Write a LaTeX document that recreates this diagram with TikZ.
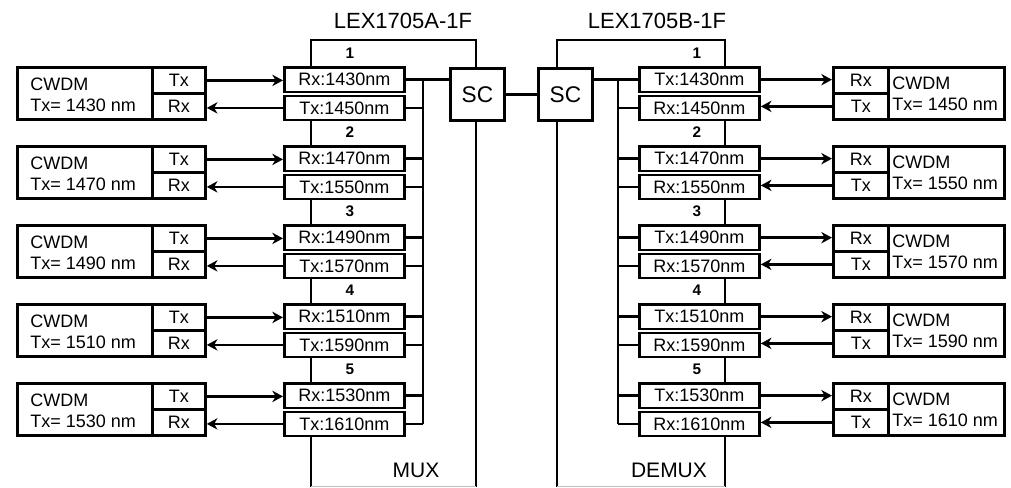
\documentclass[tikz,border=0pt]{standalone}
\usepackage{fontspec}
\setmainfont{Liberation Sans}
\usetikzlibrary{arrows.meta}
\begin{document}
\begin{tikzpicture}[x=0.75pt,y=-0.75pt,line width=2.1pt,
  box/.style={draw,rectangle,inner sep=0pt,line width=2.1pt,anchor=north west,font=\fontsize{13.5}{15}\selectfont},
  scbox/.style={box,minimum width=40.5pt,minimum height=39pt,font=\fontsize{17}{18}\selectfont},
  wbox/.style={box,minimum width=90pt},
  txt/.style={font=\fontsize{13.5}{15.75}\selectfont,inner sep=0pt},
  num/.style={font=\bfseries\fontsize{11.5}{12}\selectfont,inner sep=0pt},
  big/.style={font=\fontsize{15.75}{17}\selectfont,inner sep=0pt},
  ttl/.style={font=\fontsize{16.5}{18}\selectfont,inner sep=0pt},
  arr/.style={-{Stealth[length=8pt,width=8.5pt,inset=2.5pt]}},
  bottomline/.style={draw=black!25,line width=0.6pt}]
\useasboundingbox (0,0) rectangle (1011,487);

% titles
\node[ttl] (titleA) at (403,21) {LEX1705A-1F};
\node[ttl] (titleB) at (657,21) {LEX1705B-1F};

% SC connectors
\node[scbox] (scL) at (449,67) {SC};
\node[scbox] (scR) at (537,67) {SC};
\draw (scL.east) -- (scR.west);

% frame corners
\coordinate (muxTL) at (311,40);
\coordinate (muxTR) at (476,40);
\coordinate (muxBL) at (311,487);
\coordinate (muxBR) at (476,487);
\coordinate (demTL) at (557,40);
\coordinate (demTR) at (725,40);
\coordinate (demBL) at (557,487);
\coordinate (demBR) at (725,487);
\coordinate (busL) at (423,0);
\coordinate (busR) at (618,0);

\foreach \i/\a/\b in {1/1430/1450,2/1470/1550,3/1490/1570,4/1510/1590,5/1530/1610}{
  \pgfmathsetmacro\dy{79*(\i-1)}
  % ---- left side
  \node[box,minimum width=101.25pt,minimum height=39pt] (cwL\i) at (16,{66+\dy}) {};
  \node[txt,anchor=west,align=left] (cwLt\i) at ([xshift=9.75pt,yshift=-0.8pt]cwL\i.west) {CWDM\\Tx= \a{} nm};
  \node[box,minimum width=39.75pt,minimum height=19.5pt] (ctxL\i) at (151,{66+\dy}) {Tx};
  \node[box,minimum width=39.75pt,minimum height=19.5pt] (crxL\i) at (151,{92+\dy}) {Rx};
  \node[wbox,minimum height=18.4pt] (rxL\i) at (283,{66+\dy}) {Rx:\a nm};
  \node[wbox,minimum height=18pt] (txL\i) at (283,{94.5+\dy}) {Tx:\b nm};
  \draw[arr] (ctxL\i.east) -- (ctxL\i.east -| rxL\i.west);
  \draw[arr] (txL\i.west) -- (txL\i.west -| crxL\i.east);
  \draw (rxL\i.east) -- (rxL\i.east -| busL);
  \draw (txL\i.east) -- (txL\i.east -| busL);
  \node[num] (nL\i) at (350,{53+\dy}) {\i};
  % ---- right side
  \node[wbox,minimum height=18.4pt] (txR\i) at (638,{66+\dy}) {Tx:\a nm};
  \node[wbox,minimum height=18pt] (rxR\i) at (638,{94.5+\dy}) {Rx:\b nm};
  \node[box,minimum width=41.25pt,minimum height=19.5pt] (crxR\i) at (832,{66+\dy}) {Rx};
  \node[box,minimum width=41.25pt,minimum height=19.5pt] (ctxR\i) at (832,{92+\dy}) {Tx};
  \node[box,minimum width=87pt,minimum height=39pt] (cwR\i) at (887,{66+\dy}) {};
  \node[txt,anchor=west,align=left] (cwRt\i) at ([xshift=3pt]cwR\i.west) {CWDM\\Tx= \b{} nm};
  \draw[arr] (txR\i.east) -- (txR\i.east -| crxR\i.west);
  \draw[arr] (ctxR\i.west) -- (ctxR\i.west -| rxR\i.east);
  \draw (txR\i.west) -- (txR\i.west -| busR);
  \draw (rxR\i.west) -- (rxR\i.west -| busR);
  \node[num] (nR\i) at (697,{53+\dy}) {\i};
}

% frame segments between channels
\foreach \i in {1,2,3,4}{
  \pgfmathtruncatemacro\j{\i+1}
  \draw (txL\i.south -| muxTL) -- (rxL\j.north -| muxTL);
  \draw (rxR\i.south -| demTR) -- (txR\j.north -| demTR);
}

% MUX frame
\draw (rxL1.north -| muxTL) -- (muxTL) -- (muxTR) -- (muxTR |- scL.north);
\draw (scL.south -| muxTR) -- (muxBR);
\draw (txL5.south -| muxTL) -- (muxBL);
\draw[bottomline] ([yshift=0.4pt]muxBL) -- ([yshift=0.4pt]muxBR);
% DEMUX frame
\draw (scR.north -| demTL) -- (demTL) -- (demTR) -- (txR1.north -| demTR);
\draw (scR.south -| demTL) -- (demBL);
\draw (rxR5.south -| demTR) -- (demBR);
\draw[bottomline] ([yshift=0.4pt]demBL) -- ([yshift=0.4pt]demBR);

% buses
\draw (rxL1.east -| busL) -- (rxL1.east -| scL.west);
\draw (rxL1.east -| busL) -- (txL5.east -| busL);
\draw (txR1.west -| scR.east) -- (txR1.west -| busR);
\draw (txR1.west -| busR) -- (rxR5.west -| busR);

% labels
\node[big] (mux) at (416,470) {MUX};
\node[big] (demux) at (669,470) {DEMUX};
\end{tikzpicture}
\end{document}
